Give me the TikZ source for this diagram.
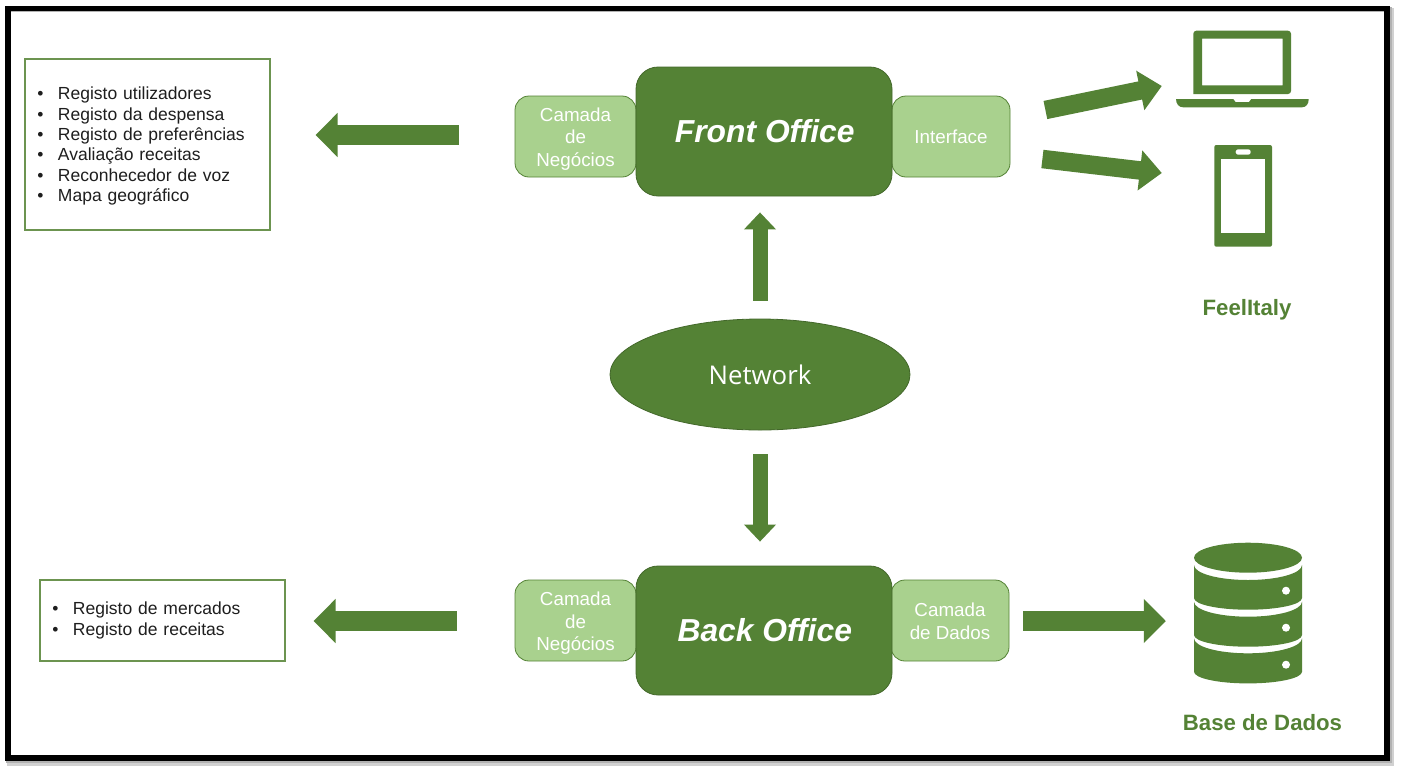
\documentclass[tikz,border=0pt]{standalone}
\usepackage{fontspec}
\setmainfont{Liberation Sans}
\newfontfamily\netfont{Open Sans}
\usetikzlibrary{arrows.meta,shapes.geometric}
\definecolor{dkgreen}{HTML}{548235}
\definecolor{ltgreen}{HTML}{A9D18E}
\definecolor{boxline}{HTML}{6C9450}
\definecolor{txt}{HTML}{1E1E1E}
\newcommand{\fsz}[2]{\fontsize{#1pt}{#2pt}\selectfont}
\newcommand{\bul}[1]{\makebox[21pt][l]{\hspace{0.3pt}•}#1\\}
\tikzset{
  x=1pt,y=-1pt,
  mainbox/.style={draw=dkgreen!80!black,line width=0.8pt,fill=dkgreen,rounded corners=22pt,minimum width=256pt,minimum height=129pt,inner sep=0pt,text=white,font=\bfseries\itshape\fsz{31.8}{36}},
  sidebox/.style={draw=dkgreen,line width=0.8pt,fill=ltgreen,rounded corners=14pt,minimum height=81pt,inner sep=0pt,text=white,align=center,font=\fsz{18.8}{22.5}},
  listbox/.style={draw=boxline,line width=1.2pt,fill=white,inner sep=0pt,minimum width=245pt,text width=221pt,align=left,text=txt,font=\fsz{17.5}{20.4}},
  heading/.style={text=dkgreen,inner sep=0pt,font=\bfseries\fsz{22.2}{26}},
  blockH/.style={dkgreen,line width=20.5pt,-{Triangle[length=22pt,width=43pt]}},
  blockV/.style={dkgreen,line width=15pt,-{Triangle[length=17pt,width=31pt]}},
  blockD/.style={dkgreen,line width=18.5pt,-{Triangle[length=22pt,width=39pt]}},
  icon/.style={fill=dkgreen,draw=none,even odd rule},
}
\newcommand{\dbtier}[3]{% y of top side, y of bottom side, dot y
  \fill[dkgreen] (1194,#1) .. controls (1194,#1+8.3) and (1218,#1+15) .. (1248,#1+15)
    .. controls (1278,#1+15) and (1302,#1+8.3) .. (1302,#1)
    -- (1302,#2) .. controls (1302,#2+6.5) and (1278,#2+11.7) .. (1248,#2+11.7)
    .. controls (1218,#2+11.7) and (1194,#2+6.5) .. (1194,#2) -- cycle;
  \fill[white] (1286,#3) circle[radius=4pt];
}
\begin{document}
\begin{tikzpicture}
\useasboundingbox (0,0) rectangle (1402,772);
% frame
\fill[black!18] (7,8) rectangle (1394,765.5);
\fill[black!30] (6,7) rectangle (1392,763);
\fill[white] (10,11.5) rectangle (1384,754.5);
\draw[black,line width=5.6pt] (7.8,8.5) rectangle (1386.7,757.9);

% side boxes first, main boxes over them
\node[sidebox,minimum width=121pt] (fbiz) at (575.5,136.5) {\rule{0pt}{18pt}Camada\\de\\Negócios};
\node[sidebox,minimum width=118pt] (iface) at (951,136.5) {Interface};
\node[sidebox,minimum width=121pt] (bbiz) at (575.5,620.5) {\rule{0pt}{19pt}Camada\\de\\Negócios};
\node[sidebox,minimum width=118pt] (bdata) at (950,620.5) {\rule{0pt}{15pt}Camada\\de Dados};
\node[mainbox] (front) at (764,131.5) {\hspace{1.5pt}\raisebox{-1.5pt}{Front Office}};
\node[mainbox] (back) at (764,630.5) {\hspace{1.5pt}\raisebox{-3pt}{Back Office}};
\node[draw=dkgreen!80!black,line width=0.8pt,fill=dkgreen,ellipse,minimum width=300pt,minimum height=111pt,inner sep=0pt,text=white,font=\netfont\fsz{25.8}{30}] (net) at (760,374.5) {Network};

% lists
\node[listbox,minimum height=171pt] (flist) at (147.5,144.5) {\rule{0pt}{16pt}\bul{Registo utilizadores}\bul{Registo da despensa}\bul{Registo de preferências}\bul{Avaliação receitas}\bul{Reconhecedor de voz}\bul{Mapa geográfico}};
\node[listbox,minimum height=81pt] (blist) at (162.5,620.5) {\bul{Registo de mercados}\bul{Registo de receitas}};

% icons
\path[icon,rounded corners=3pt] (1193.3,94) -- (1193.3,30.7) -- (1291,30.7) -- (1291,94) [sharp corners] -- cycle (1202,38.7) rectangle (1282.7,85.3);
\fill[dkgreen] (1176,99) -- (1233.3,99) -- (1235.5,102) -- (1249,102) -- (1251.3,99) -- (1308.7,99) .. controls (1308.7,104) and (1306,107.3) .. (1302,107.3) -- (1183,107.3) .. controls (1179,107.3) and (1176,104) .. (1176,99) -- cycle;
\node[minimum width=132pt,minimum height=77pt,inner sep=0pt] (laptop) at (1242,69) {};
\path[icon,rounded corners=2pt] (1214.3,145) rectangle (1272,246.7);
\fill[white] (1221.3,159) rectangle (1265,232.7);
\fill[white,rounded corners=2.5pt] (1235.7,149.3) rectangle (1250.7,154.7);
\node[minimum width=58pt,minimum height=102pt,inner sep=0pt] (phone) at (1243,196) {};
\fill[dkgreen] (1248,557.7) ellipse[x radius=54pt,y radius=15pt];
\dbtier{565}{598}{590.7}
\dbtier{601.7}{635}{627.7}
\dbtier{638.3}{671.7}{664.7}
\node[minimum width=108pt,minimum height=141pt,inner sep=0pt] (db) at (1248,613) {};

% headings
\node[heading] (feel) at (1247,310) {FeelItaly};
\node[heading] (bd) at (1262.5,723) {Base de Dados};

% connectors
\draw[blockH] ([xshift=-56pt,yshift=1.5pt]fbiz.west) -- ([xshift=45pt,yshift=9.5pt]flist.east);
\draw[blockH] ([xshift=-58pt,yshift=-0.5pt]bbiz.west) -- ([xshift=28pt,yshift=-0.5pt]blist.east);
\draw[blockV] ([yshift=18pt]net.north) -- ([xshift=-4pt,yshift=-16pt]front.south);
\draw[blockV] ([yshift=-24pt]net.south) -- ([xshift=-4pt,yshift=24pt]back.north);
\draw[blockH] ([xshift=14pt,yshift=-0.5pt]bdata.east) -- ([xshift=-28pt,yshift=-8pt]db.west);
\draw[blockD] ([shift={(35pt,26.5pt)}]iface.east) -- ([shift={(-14pt,-17pt)}]laptop.west);
\draw[blockD] ([shift={(32pt,-22.5pt)}]iface.east) -- ([shift={(-52pt,23pt)}]phone.west);
\end{tikzpicture}
\end{document}
